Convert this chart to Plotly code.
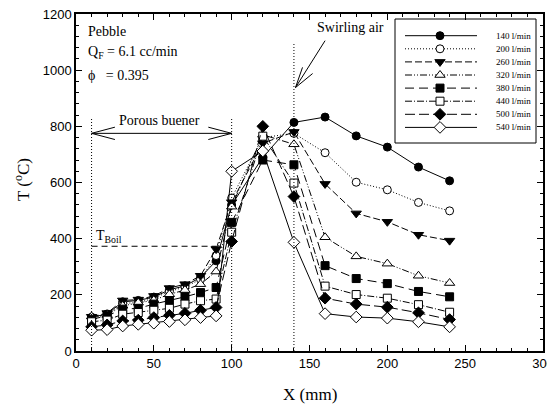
import plotly.graph_objects as go

# ---------------- data ----------------
x_mm = [10, 20, 30, 40, 50, 60, 70, 80, 90, 100, 120, 140, 160, 180, 200, 220, 240]

flow_labels = ["140 l/min", "200 l/min", "260 l/min", "320 l/min",
               "380 l/min", "440 l/min", "500 l/min", "540 l/min"]

T_140 = [120, 132, 175, 180, 192, 218, 232, 262, 321, 520, 690, 814, 833, 766, 726, 655, 606]
T_200 = [118, 128, 170, 172, 188, 212, 228, 255, 340, 545, 760, 775, 706, 601, 574, 529, 499]
T_260 = [122, 135, 180, 183, 196, 224, 238, 268, 363, 530, 740, 780, 595, 490, 460, 414, 393]
T_320 = [123, 128, 161, 172, 181, 202, 217, 238, 283, 514, 770, 736, 405, 337, 311, 268, 242]
T_380 = [113, 125, 149, 152, 167, 179, 193, 208, 226, 458, 680, 663, 304, 258, 240, 212, 193]
T_440 = [104, 110, 131, 137, 145, 152, 167, 179, 185, 423, 765, 598, 231, 201, 188, 165, 138]
T_500 = [86, 93, 107, 110, 119, 127, 134, 145, 155, 390, 800, 550, 188, 167, 156, 136, 112]
T_540 = [74, 76, 89, 95, 99, 105, 111, 119, 125, 640, 712, 387, 133, 121, 117, 104, 86]

series = [T_140, T_200, T_260, T_320, T_380, T_440, T_500, T_540]

x_ticks = [0, 50, 100, 150, 200, 250, 300]
y_ticks = [0, 200, 400, 600, 800, 1000, 1200]

# ---------------- styles ----------------
symbols = ["circle", "circle", "triangle-down", "triangle-up",
           "square", "square", "diamond", "diamond"]
fills = ["black", "white", "black", "white", "black", "white", "black", "white"]
dashes = ["solid", "1px,2px", "7px,3px", "7px,2px,1px,2px,1px,2px",
          "9px,5px", "7px,2px,1px,2px", "10px,4px", "solid"]
msize = [8, 8, 9, 9, 8, 8, 9, 9]

SERIF = "Liberation Serif, Times New Roman, serif"
SANS = "Liberation Sans, Arial, sans-serif"

# page body margin offsets the figure by ~8px; build the figure so that the
# screen positions match the reference (all pixel numbers below are screen px)
OFF = 8
W, H = 555 - OFF, 412 - 2 * OFF
L, R, T, B = 76, 543, 14, 351  # plot area, screen pixels


def px(xp):
    return (xp - L) / (R - L)


def py(yp):
    return (B - yp) / (B - T)


fig = go.Figure()

for vals, lab, sym, fc, dsh, ms in zip(series, flow_labels, symbols, fills, dashes, msize):
    fig.add_trace(go.Scatter(
        x=x_mm, y=vals, mode="lines+markers", name=lab, showlegend=False,
        line=dict(color="black", width=1, dash=dsh),
        marker=dict(symbol=sym, size=ms, color=fc, line=dict(color="black", width=1)),
    ))

# ---------------- custom legend (pixel-space overlay axes) ----------------
leg_y0, leg_dy = 35.7, 13.1
for i, (lab, sym, fc, dsh, ms) in enumerate(zip(flow_labels, symbols, fills, dashes, msize)):
    yy = leg_y0 + leg_dy * i
    fig.add_trace(go.Scatter(x=[405, 477], y=[yy, yy], mode="lines", xaxis="x2", yaxis="y2",
                             showlegend=False, hoverinfo="skip",
                             line=dict(color="black", width=1, dash=dsh)))
    fig.add_trace(go.Scatter(x=[440], y=[yy], mode="markers", xaxis="x2", yaxis="y2",
                             showlegend=False, hoverinfo="skip",
                             marker=dict(symbol=sym, size=ms, color=fc,
                                         line=dict(color="black", width=1))))
    fig.add_annotation(x=494, y=yy, xref="x2", yref="y2", text=lab, showarrow=False,
                       xanchor="left", yanchor="middle",
                       font=dict(family=SERIF, size=9, color="black"))

shapes = []
# legend box
shapes.append(dict(type="rect", xref="paper", yref="paper", x0=px(395), x1=px(536),
                   y0=py(143), y1=py(19), line=dict(color="black", width=1),
                   fillcolor="rgba(0,0,0,0)", layer="below"))

# vertical dotted lines
for xv, top in [(10, 828), (100, 828), (140, 1100)]:
    shapes.append(dict(type="line", xref="x", yref="y", x0=xv, x1=xv, y0=0, y1=top,
                       line=dict(color="black", width=1, dash="1px,2px")))

# porous burner double arrow
shapes.append(dict(type="line", xref="x", yref="y", x0=10, x1=100, y0=775, y1=775,
                   line=dict(color="black", width=1)))
for tip, end in [(10, 25), (100, 85)]:
    for yend in (797, 753):
        shapes.append(dict(type="line", xref="x", yref="y", x0=tip, x1=end, y0=775, y1=yend,
                           line=dict(color="black", width=1)))

# swirling air arrow
shapes.append(dict(type="line", xref="x", yref="y", x0=141, x1=160, y0=938, y1=1105,
                   line=dict(color="black", width=1)))
shapes.append(dict(type="line", xref="x", yref="y", x0=141, x1=145.5, y0=938, y1=1010,
                   line=dict(color="black", width=1)))
shapes.append(dict(type="line", xref="x", yref="y", x0=141, x1=152, y0=938, y1=988,
                   line=dict(color="black", width=1)))

# T boil dashed line
shapes.append(dict(type="line", xref="x", yref="y", x0=10, x1=90, y0=373, y1=373,
                   line=dict(color="black", width=1, dash="6px,4px")))

annotations = [
    dict(x=px(86), y=py(32), text="Pebble"),
    dict(x=px(86), y=py(52), text="Q<sub>F</sub> = 6.1 cc/min"),
    dict(x=px(86), y=py(75), text="\u03d5   = 0.395"),
    dict(x=px(117), y=py(121), text="Porous buener"),
    dict(x=px(315), y=py(27), text="Swirling air"),
    dict(x=px(94), y=py(236), text="T<sub>Boil</sub>"),
]
for a in annotations:
    fig.add_annotation(xref="paper", yref="paper", showarrow=False, xanchor="left",
                       yanchor="middle", font=dict(family=SERIF, size=14, color="black"),
                       **a)

# axis titles
fig.add_annotation(xref="paper", yref="paper", x=px(310), y=py(394), showarrow=False,
                   text="X (mm)", xanchor="center", yanchor="middle",
                   font=dict(family=SERIF, size=17, color="black"))
fig.add_annotation(xref="paper", yref="paper", x=px(22), y=py(180), showarrow=False,
                   text="T (<sup>o</sup>C)", textangle=-90, xanchor="center", yanchor="middle",
                   font=dict(family=SERIF, size=17, color="black"))

axis_common = dict(showgrid=False, zeroline=False, showline=True, linecolor="black",
                   linewidth=1.5, mirror="ticks", ticks="inside", ticklen=6, tickwidth=1.2,
                   tickcolor="black", ticklabeloverflow="allow",
                   tickfont=dict(family=SANS, size=13, color="black"))

fig.update_layout(
    width=W, height=H,
    margin=dict(l=L - OFF, r=W - (R - OFF), t=T - OFF, b=H - (B - OFF), autoexpand=False),
    paper_bgcolor="white", plot_bgcolor="white",
    showlegend=False,
    shapes=shapes,
    xaxis=dict(range=[0, 300], tickvals=x_ticks, ticktext=[str(v) for v in x_ticks],
               minor=dict(dtick=10, ticklen=3, ticks="inside", tickcolor="black"),
               **axis_common),
    yaxis=dict(range=[0, 1200], tickvals=y_ticks, ticktext=[str(v) for v in y_ticks],
               minor=dict(dtick=40, ticklen=3, ticks="inside", tickcolor="black"),
               **axis_common),
    xaxis2=dict(range=[L, R], overlaying="x", visible=False, fixedrange=True),
    yaxis2=dict(range=[B, T], overlaying="y", visible=False, fixedrange=True),
)

fig.write_html("out.html")
